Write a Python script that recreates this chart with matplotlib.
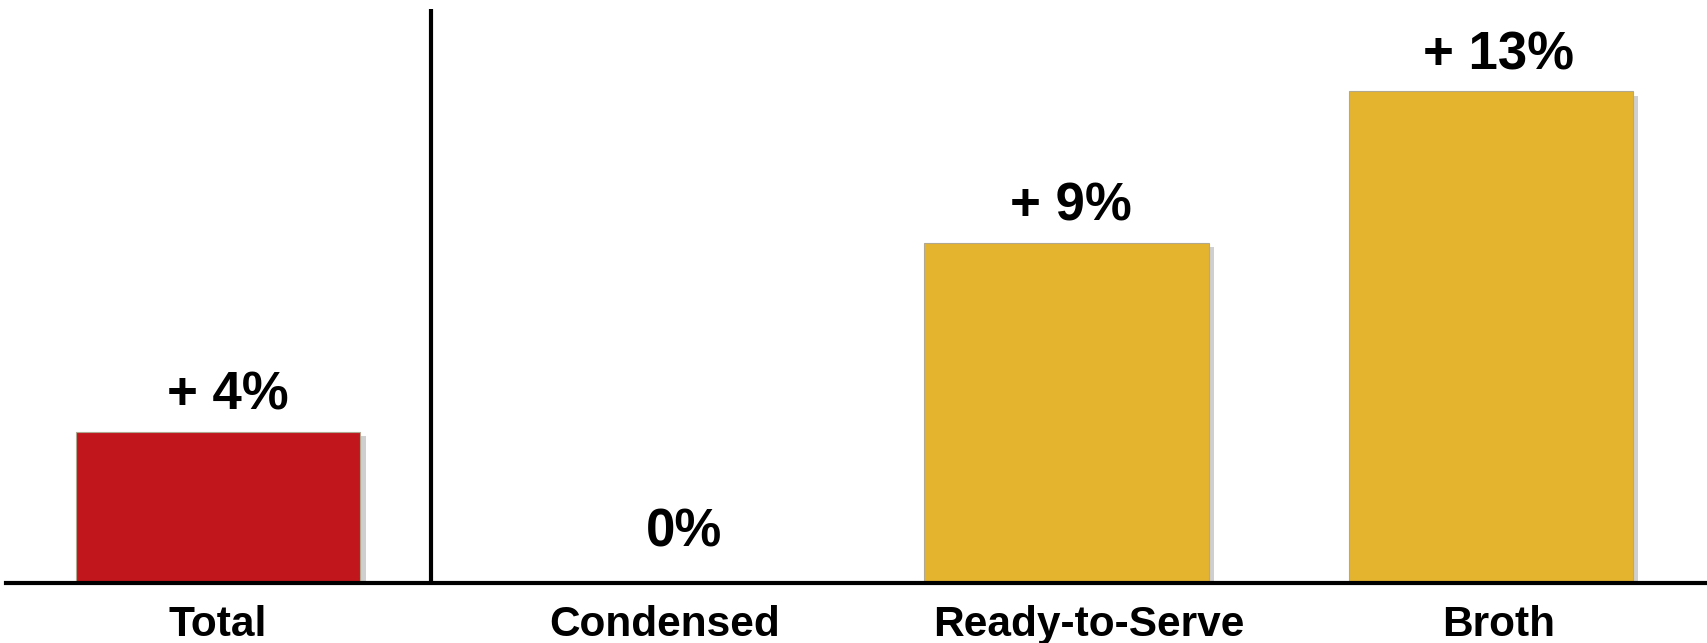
import matplotlib.pyplot as plt
import matplotlib.patheffects as pe
from matplotlib.transforms import ScaledTranslation

categories = ['Total', 'Condensed', 'Ready-to-Serve', 'Broth']
growth = [4, 0, 9, 13]
colors = ['#C0161C', '#E5B42E', '#E5B42E', '#E5B42E']

# horizontal nudges (in points) for the value labels and the category names
value_shift = [7, 30, 3, 6]
name_shift = [0, 16, 16, 6]

plt.rcParams['font.family'] = ['Liberation Sans', 'DejaVu Sans']

fig = plt.figure(figsize=(17.07, 6.43), dpi=100)
ax = fig.add_axes([6 / 1707, 60 / 643, 1 - 6 / 1707, 583 / 643])

x = range(len(categories))
bars = ax.bar(x, growth, width=0.67, color=colors, edgecolor='#b0a890', linewidth=0.8)
for b in bars:
    b.set_path_effects([pe.SimplePatchShadow(offset=(4, -3), shadow_rgbFace='#777777', alpha=0.35),
                        pe.Normal()])

for i, v in enumerate(growth):
    label = '+ %d%%' % v if v > 0 else '0%'
    off = 0.3 if v > 0 else 0.68
    tr = ax.transData + ScaledTranslation(value_shift[i] / 72, 0, fig.dpi_scale_trans)
    ax.text(i, v + off, label, ha='center', va='bottom', fontsize=38, fontweight='bold',
            transform=tr)

# category names under the axis line
for i, name in enumerate(categories):
    tr = ax.get_xaxis_transform() + ScaledTranslation(name_shift[i] / 72, -16 / 72, fig.dpi_scale_trans)
    ax.text(i, 0, name, ha='center', va='top', fontsize=30.5, fontweight='bold',
            transform=tr, clip_on=False)

# divider between the total and the segments
ax.plot([0.503, 0.503], [0, 15.19], color='black', lw=3, solid_capstyle='butt')

ax.set_xlim(-0.5, 3.51)
ax.set_ylim(0, 15.42)
ax.set_xticks([])
ax.set_yticks([])
for s in ['top', 'right', 'left']:
    ax.spines[s].set_visible(False)
ax.spines['bottom'].set_linewidth(3)

fig.savefig('out.png', dpi=100)
